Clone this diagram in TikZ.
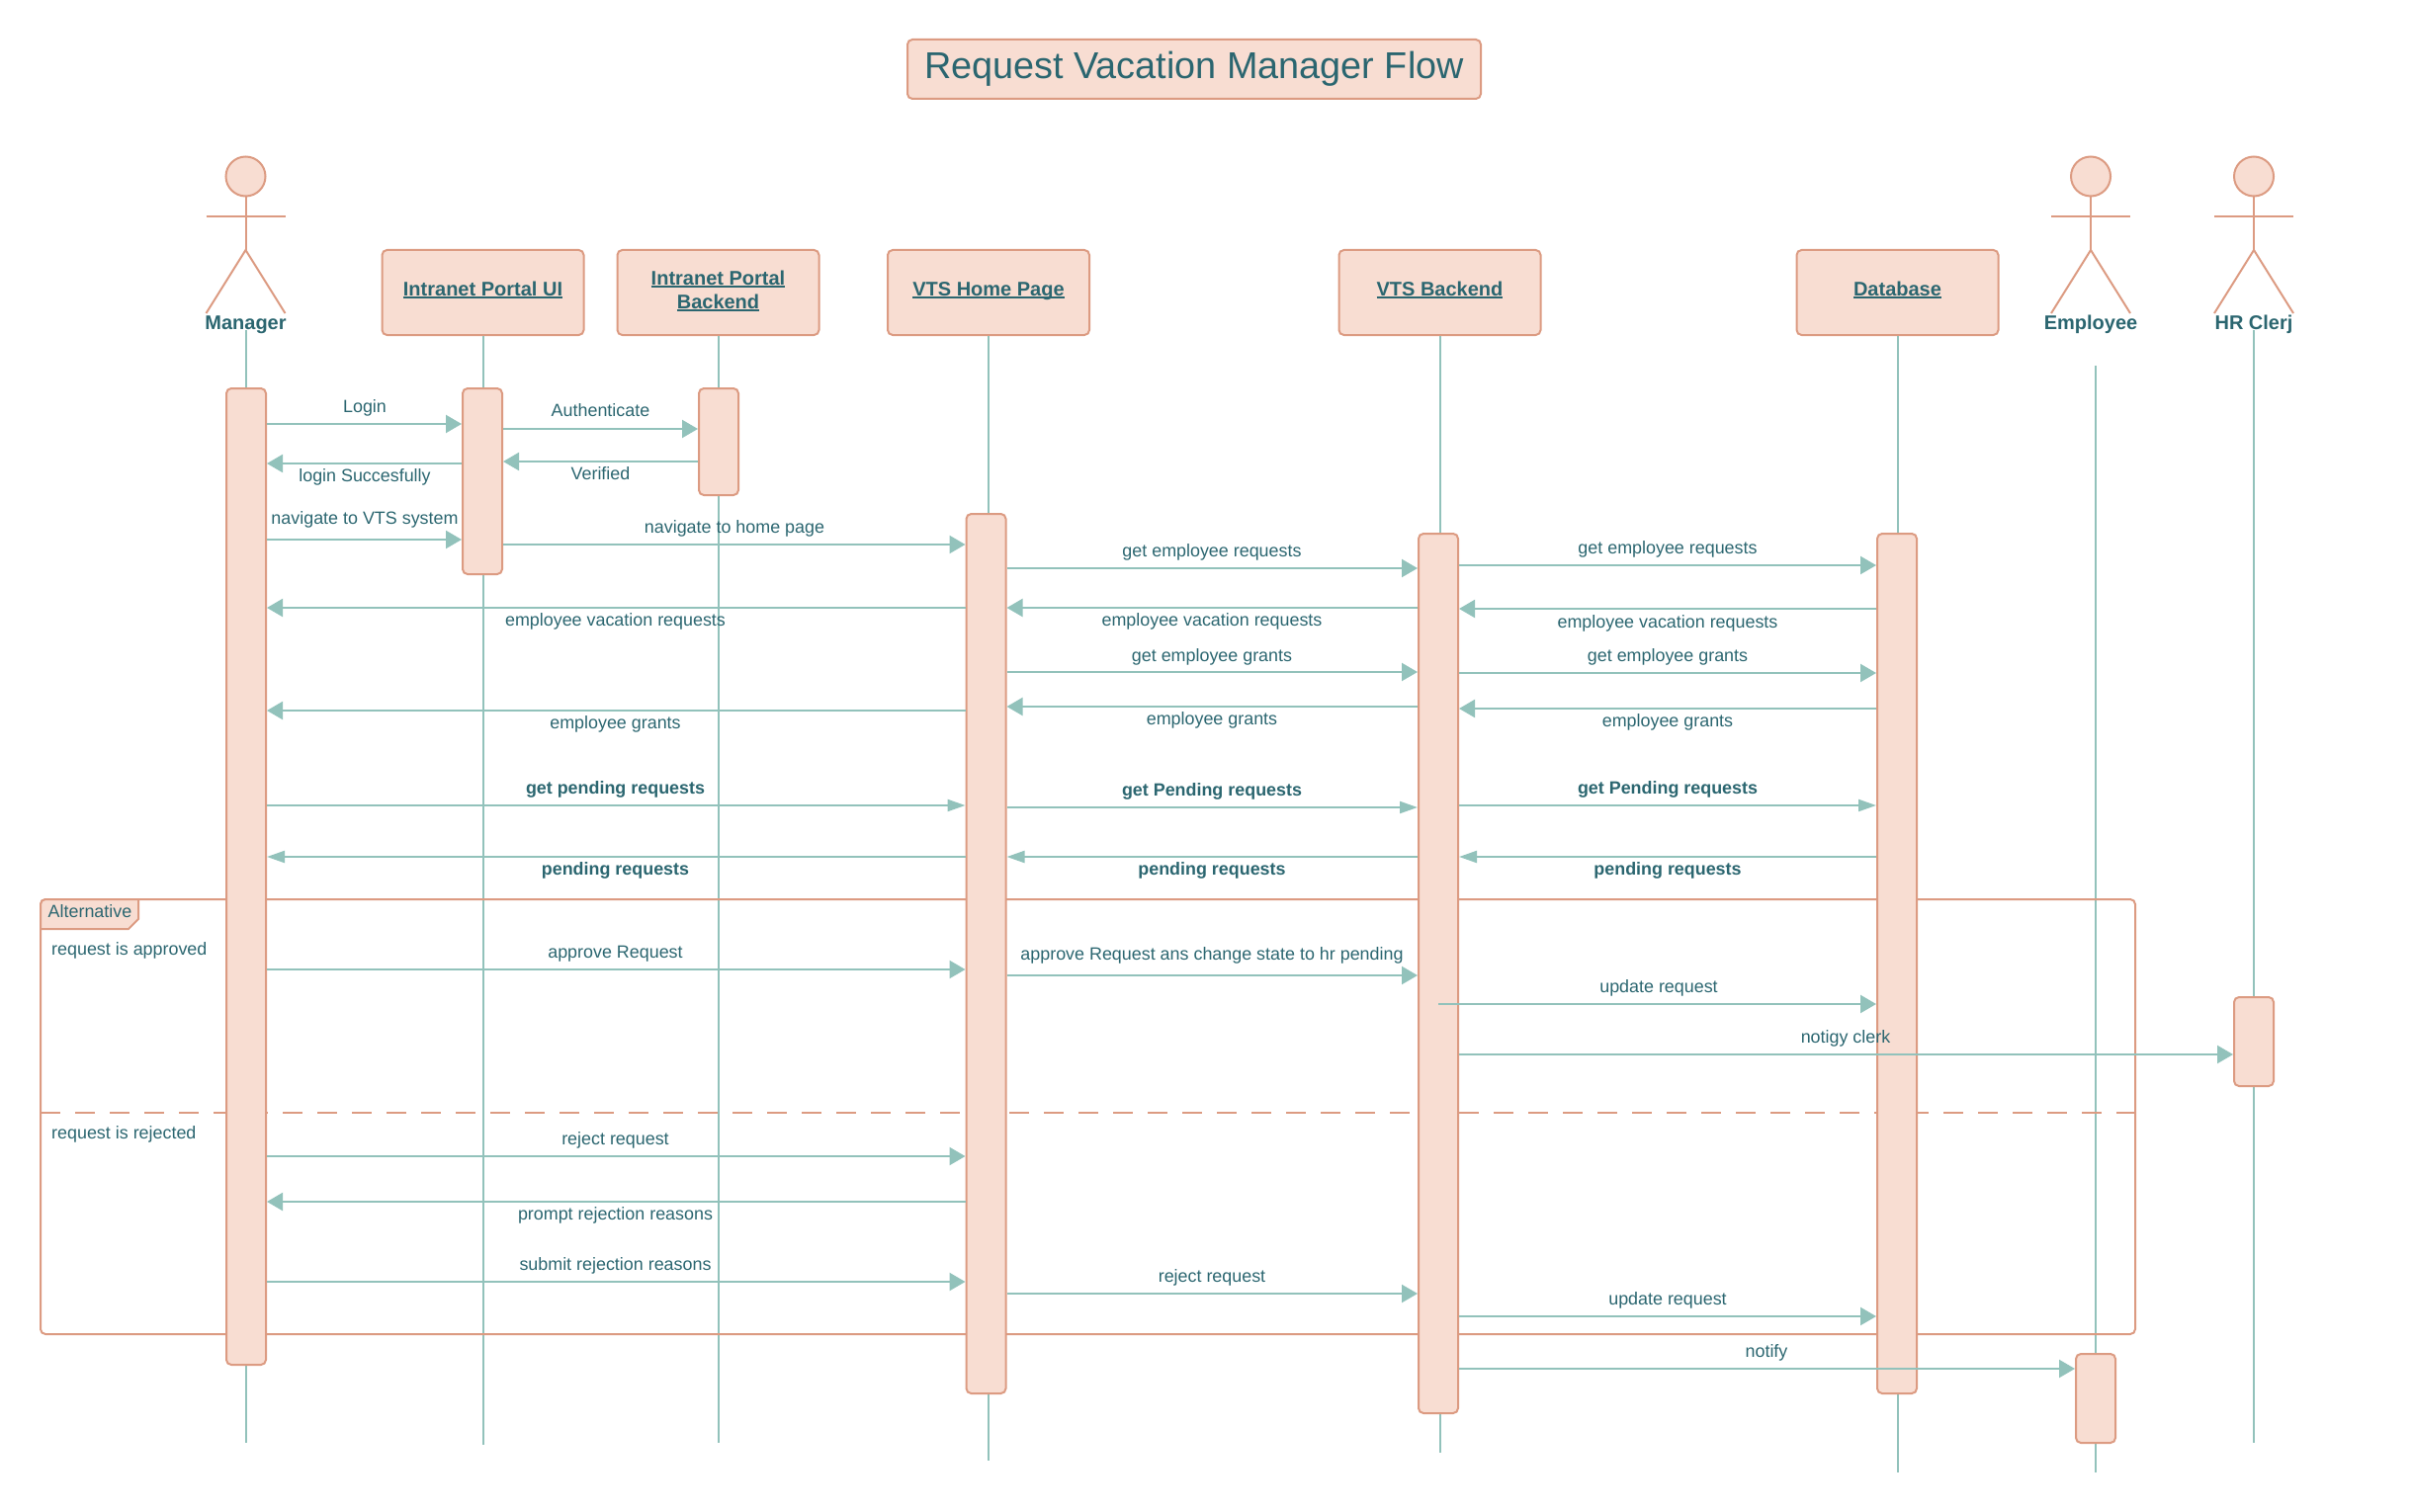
\documentclass[tikz,border=0pt]{standalone}
\usepackage{fontspec}
\setmainfont{Liberation Sans}
\usetikzlibrary{arrows.meta,calc}
\definecolor{barfill}{HTML}{F8DDD2}
\definecolor{barline}{HTML}{DC9B82}
\definecolor{msgline}{HTML}{92C2BB}
\definecolor{textcol}{HTML}{2B6670}
\tikzset{
	bar/.style={draw=barline,fill=barfill,line width=2pt,rounded corners=5pt,minimum width=40pt,inner sep=0pt},
	objbox/.style={bar,minimum width=204pt,minimum height=86pt,align=center,text=textcol,font=\fontsize{20}{24}\selectfont\bfseries,text height=14.5pt,text depth=8.5pt},
	head/.style={circle,draw=barline,fill=barfill,line width=2pt,minimum size=40pt,inner sep=0pt},
	limb/.style={draw=barline,line width=2pt},
	actorlabel/.style={text=textcol,font=\fontsize{20}{24}\selectfont\bfseries,inner sep=0pt,text height=15pt,text depth=1pt},
	life/.style={draw=msgline,line width=2pt},
	msg/.style={draw=msgline,line width=2.2pt,-{Triangle[length=16pt,width=18pt,fill=msgline]}},
	msgsmall/.style={msg,-{Triangle[length=18pt,width=12pt,fill=msgline]}},
	msglabel/.style={text=textcol,font=\fontsize{17.9}{22}\selectfont,inner sep=0pt,text height=14pt,text depth=3pt},
}
\newcommand{\underlab}[1]{\setbox0\hbox{#1}\rlap{\rule[-3pt]{\wd0}{2pt}}\box0}
\newcommand{\drawbar}[4]{
	\pgfmathsetmacro{\barmid}{(#3+#4)/2}
	\pgfmathsetmacro{\barlen}{#4-#3}
	\node[bar,minimum height=\barlen pt] (#1) at (#2,\barmid) {};
}
\newcommand{\drawactor}[3]{
	\node[head] (#1) at (#2,178.5) {};
	\draw[limb] (#1.south) -- ++(0,53.5);
	\draw[limb] ($(#1.south)+(-40,19.5)$) -- ++(80,0);
	\draw[limb] ($(#1.south)+(-40,117.5)$) -- ($(#1.south)+(0,53.5)$) -- ($(#1.south)+(40,117.5)$);
	\node[actorlabel] (#1Label) at (#2,326) {#3};
}
\newcommand{\drawlife}[3]{
	\coordinate (#1End) at (#2 |- 0,#3);
	\draw[life] (#2) -- (#1End);
}
\newcommand{\drawmsg}[8][msg]{
	\draw[#1] (#3 |- 0,#5) -- (#4 |- 0,#5);
	\node[msglabel] (#2) at (#6,#7) {#8};
}
\begin{document}
\begin{tikzpicture}[x=1pt,y=-1pt]
	\useasboundingbox (0,0) rectangle (2440,1530);
	\node[bar,minimum width=580pt,minimum height=60pt,text=textcol,font=\fontsize{37.8}{44}\selectfont,text height=27pt,text depth=7pt] (title) at (1208,70) {Request Vacation Manager Flow};

	% actors and objects
	\drawactor{manager}{248.5}{Manager}
	\drawactor{employee}{2115}{Employee}
	\drawactor{clerk}{2280}{HR Clerj}
	\node[objbox] (portalUI) at (488.5,296) {\underlab{Intranet Portal UI}};
	\node[objbox,text height=32pt,text depth=0pt] (portalBack) at (726.5,296) {\underlab{Intranet Portal}\\\underlab{Backend}};
	\node[objbox] (homePage) at (1000,296) {\underlab{VTS Home Page}};
	\node[objbox] (vtsBack) at (1456.5,296) {\underlab{VTS Backend}};
	\node[objbox] (database) at (1919.5,296) {\underlab{Database}};

	% lifelines
	\drawlife{manager}{managerLabel.south}{1460}
	\drawlife{portalUI}{portalUI.south}{1462}
	\drawlife{portalBack}{portalBack.south}{1460}
	\drawlife{homePage}{homePage.south}{1478}
	\drawlife{vtsBack}{vtsBack.south}{1470}
	\drawlife{database}{database.south}{1490}
	\drawlife{clerk}{clerkLabel.south}{1460}
	\coordinate (employeeTop) at (2119.5,370);
	\drawlife{employee}{employeeTop}{1490}

	% alternative frame
	\node[draw=barline,line width=2pt,rounded corners=5pt,minimum width=2119pt,minimum height=440pt,inner sep=0pt] (altFrame) at (1100.5,1130) {};
	\draw[draw=barline,fill=barfill,line width=2pt] (41,940) [rounded corners=5pt] -- (41,910) [sharp corners] -- (140,910) -- (140,930) -- (130,940) -- cycle;
	\node[msglabel] (altLabel) at (91,923) {Alternative};
	\node[msglabel,anchor=west] (altYes) at (52,961) {request is approved};
	\node[msglabel,anchor=west] (altNo) at (52,1147) {request is rejected};
	\coordinate (splitL) at (41,1126);
	\coordinate (splitR) at (2160,1126);
	\draw[draw=barline,line width=2pt,dash pattern=on 19.5pt off 15.5pt] (splitL) -- (splitR);

	% activations
	\drawbar{managerBar}{249}{393}{1381}
	\drawbar{portalBar}{488}{393}{581}
	\drawbar{backBar}{727}{393}{501}
	\drawbar{homeBar}{997.5}{520}{1410}
	\drawbar{vtsBar}{1455}{540}{1430}
	\drawbar{dbBar}{1919}{540}{1410}
	\drawbar{clerkBar}{2280}{1009}{1099}
	\drawbar{employeeBar}{2120}{1370}{1460}

	% messages
	\drawmsg{mLogin}{managerBar.east}{portalBar.west}{429}{369}{412}{Login}
	\drawmsg{mAuth}{portalBar.east}{backBar.west}{434}{607.5}{416}{Authenticate}
	\drawmsg{mLoginOk}{portalBar.west}{managerBar.east}{469}{369}{482}{login Succesfully}
	\drawmsg{mVerified}{backBar.west}{portalBar.east}{467}{607.5}{480}{Verified}
	\drawmsg{mNavVts}{managerBar.east}{portalBar.west}{546}{369}{525}{navigate to VTS system}
	\drawmsg{mNavHome}{portalBar.east}{homeBar.west}{551}{743}{534}{navigate to home page}

	\drawmsg{mReqA}{homeBar.east}{vtsBar.west}{575}{1226}{558}{get employee requests}
	\drawmsg{mReqB}{vtsBar.east}{dbBar.west}{572}{1687}{555}{get employee requests}
	\drawmsg{mVacA}{homeBar.west}{managerBar.east}{615}{622.5}{628}{employee vacation requests}
	\drawmsg{mVacB}{vtsBar.west}{homeBar.east}{615}{1226}{628}{employee vacation requests}
	\drawmsg{mVacC}{dbBar.west}{vtsBar.east}{616}{1687}{630}{employee vacation requests}
	\drawmsg{mGrantA}{homeBar.east}{vtsBar.west}{680}{1226}{664}{get employee grants}
	\drawmsg{mGrantB}{vtsBar.east}{dbBar.west}{681}{1687}{664}{get employee grants}
	\drawmsg{mGotA}{homeBar.west}{managerBar.east}{719}{622.5}{732}{employee grants}
	\drawmsg{mGotB}{vtsBar.west}{homeBar.east}{715}{1226}{728}{employee grants}
	\drawmsg{mGotC}{dbBar.west}{vtsBar.east}{717}{1687}{730}{employee grants}

	\drawmsg[msgsmall]{mPendA}{managerBar.east}{homeBar.west}{815}{622.5}{798}{\textbf{get pending requests}}
	\drawmsg[msgsmall]{mPendB}{homeBar.east}{vtsBar.west}{817}{1226}{800}{\textbf{get Pending requests}}
	\drawmsg[msgsmall]{mPendC}{vtsBar.east}{dbBar.west}{815}{1687}{798}{\textbf{get Pending requests}}
	\drawmsg[msgsmall]{mBackA}{homeBar.west}{managerBar.east}{867}{622.5}{880}{\textbf{pending requests}}
	\drawmsg[msgsmall]{mBackB}{vtsBar.west}{homeBar.east}{867}{1226}{880}{\textbf{pending requests}}
	\drawmsg[msgsmall]{mBackC}{dbBar.west}{vtsBar.east}{867}{1687}{880}{\textbf{pending requests}}

	\drawmsg{mApprove}{managerBar.east}{homeBar.west}{981}{622.5}{964}{approve Request}
	\drawmsg{mChange}{homeBar.east}{vtsBar.west}{987}{1226}{966}{approve Request ans change state to hr pending}
	\drawmsg{mUpdA}{vtsBar.center}{dbBar.west}{1016}{1678}{999}{update request}
	\drawmsg{mClerk}{vtsBar.east}{clerkBar.west}{1067}{1867}{1050}{notigy clerk}

	\drawmsg{mReject}{managerBar.east}{homeBar.west}{1170}{622.5}{1153}{reject request}
	\drawmsg{mPrompt}{homeBar.west}{managerBar.east}{1216}{622.5}{1229}{prompt rejection reasons}
	\drawmsg{mSubmit}{managerBar.east}{homeBar.west}{1297}{622.5}{1280}{submit rejection reasons}
	\drawmsg{mRejectB}{homeBar.east}{vtsBar.west}{1309}{1226}{1292}{reject request}
	\drawmsg{mUpdB}{vtsBar.east}{dbBar.west}{1332}{1687}{1315}{update request}
	\drawmsg{mNotify}{vtsBar.east}{employeeBar.west}{1385}{1787}{1368}{notify}
\end{tikzpicture}
\end{document}
